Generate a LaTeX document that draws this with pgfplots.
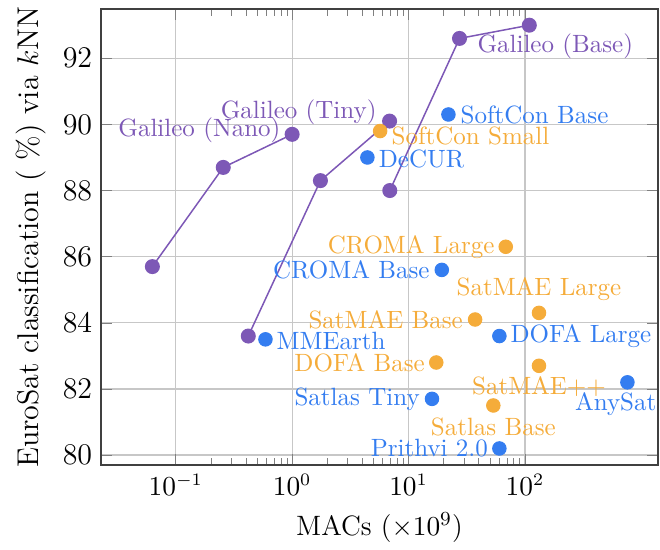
\documentclass[border=0pt]{standalone}
\usepackage{pgfplots}
\pgfplotsset{compat=1.18}

\definecolor{galpurple}{RGB}{125,88,182}
\definecolor{modblue}{RGB}{52,125,240}
\definecolor{modorange}{RGB}{245,172,58}

\begin{document}
\begin{tikzpicture}
\begin{axis}[
    scale only axis,
    width=222.8pt, height=182.4pt,
    xmode=log,
    xmin=0.0228, xmax=1390,
    ymin=79.7, ymax=93.49,
    xtick={0.1,1,10,100},
    minor xtick={0.2,0.3,0.4,0.5,0.6,0.7,0.8,0.9,2,3,4,5,6,7,8,9,20,30,40,50,60,70,80,90},
    ytick={80,82,84,86,88,90,92},
    grid=major,
    grid style={black!22, line width=0.5pt},
    minor tick length=3pt,
    axis line style={black!75, line width=0.7pt},
    xticklabel style={font=\fontsize{10.5}{12}\selectfont},
    yticklabel style={font=\fontsize{11.5}{13}\selectfont},
    xlabel={MACs ($\times10^9$)},
    xlabel style={font=\fontsize{11.2}{13}\selectfont},
    ylabel={EuroSat classification ( \%) via $k$NN},
    ylabel style={font=\large},
]

% Galileo model sizes (Nano, Tiny, Base), each at three settings
\addplot[galpurple, line width=0.6pt, mark=*, mark size=2.7pt] table {
    0.063 85.7
    0.256 88.7
    1.0   89.7
};
\addplot[galpurple, line width=0.6pt, mark=*, mark size=2.7pt] table {
    0.42 83.6
    1.75 88.3
    6.87 90.1
};
\addplot[galpurple, line width=0.6pt, mark=*, mark size=2.7pt] table {
    6.9  88.0
    27.4 92.6
    109  93.0
};

% other models, blue
\addplot[only marks, modblue, mark=*, mark size=2.7pt] table {
    22.0 90.3
    4.43 89.0
    19.3 85.6
    60.3 83.6
    0.59 83.5
    759  82.2
    15.9 81.7
    60.3 80.2
};

% other models, orange
\addplot[only marks, modorange, mark=*, mark size=2.7pt] table {
    5.7  89.8
    68.4 86.3
    132  84.3
    37.3 84.1
    17.3 82.8
    132  82.7
    53.5 81.5
};

% labels
\node[galpurple, inner sep=0pt, anchor=east, xshift=-4.5pt, yshift=1.5pt] at (axis cs:1.0,89.7) {Galileo (Nano)};
\node[galpurple, inner sep=0pt, anchor=east, xshift=-5pt, yshift=3.5pt] at (axis cs:6.87,90.1) {Galileo (Tiny)};
\node[galpurple, inner sep=0pt, anchor=west, xshift=7pt, yshift=-3pt] at (axis cs:27.4,92.6) {Galileo (Base)};

\node[modblue, inner sep=0pt, anchor=west, xshift=4.7pt] at (axis cs:22.0,90.3) {SoftCon Base};
\node[modblue, inner sep=0pt, anchor=west, xshift=4.4pt, yshift=-0.4pt] at (axis cs:4.43,89.0) {DeCUR};
\node[modblue, inner sep=0pt, anchor=east, xshift=-4.7pt] at (axis cs:19.3,85.6) {CROMA Base};
\node[modblue, inner sep=0pt, anchor=west, xshift=4.3pt] at (axis cs:60.3,83.6) {DOFA Large};
\node[modblue, inner sep=0pt, anchor=west, xshift=4.3pt, yshift=-0.5pt] at (axis cs:0.59,83.5) {MMEarth};
\node[modblue, inner sep=0pt, anchor=north, xshift=-4.7pt, yshift=-3.8pt] at (axis cs:759,82.2) {AnySat};
\node[modblue, inner sep=0pt, anchor=east, xshift=-4.7pt] at (axis cs:15.9,81.7) {Satlas Tiny};
\node[modblue, inner sep=0pt, anchor=east, xshift=-4.4pt] at (axis cs:60.3,80.2) {Prithvi 2.0};

\node[modorange, inner sep=0pt, anchor=west, xshift=4.4pt, yshift=-2pt] at (axis cs:5.7,89.8) {SoftCon Small};
\node[modorange, inner sep=0pt, anchor=east, xshift=-4.3pt] at (axis cs:68.4,86.3) {CROMA Large};
\node[modorange, inner sep=0pt, anchor=south, yshift=4.5pt] at (axis cs:132,84.3) {SatMAE Large};
\node[modorange, inner sep=0pt, anchor=east, xshift=-4.7pt] at (axis cs:37.3,84.1) {SatMAE Base};
\node[modorange, inner sep=0pt, anchor=east, xshift=-4.4pt] at (axis cs:17.3,82.8) {DOFA Base};
\node[modorange, inner sep=0pt, anchor=north, yshift=-4pt] at (axis cs:132,82.7) {SatMAE++};
\node[modorange, inner sep=0pt, anchor=north, yshift=-4.7pt] at (axis cs:53.5,81.5) {Satlas Base};

\end{axis}
\pgfresetboundingbox
\path ([shift={(-40.4pt,-33.6pt)}]current axis.south west) rectangle ([shift={(0.8pt,3.6pt)}]current axis.north east);
\end{tikzpicture}
\end{document}
